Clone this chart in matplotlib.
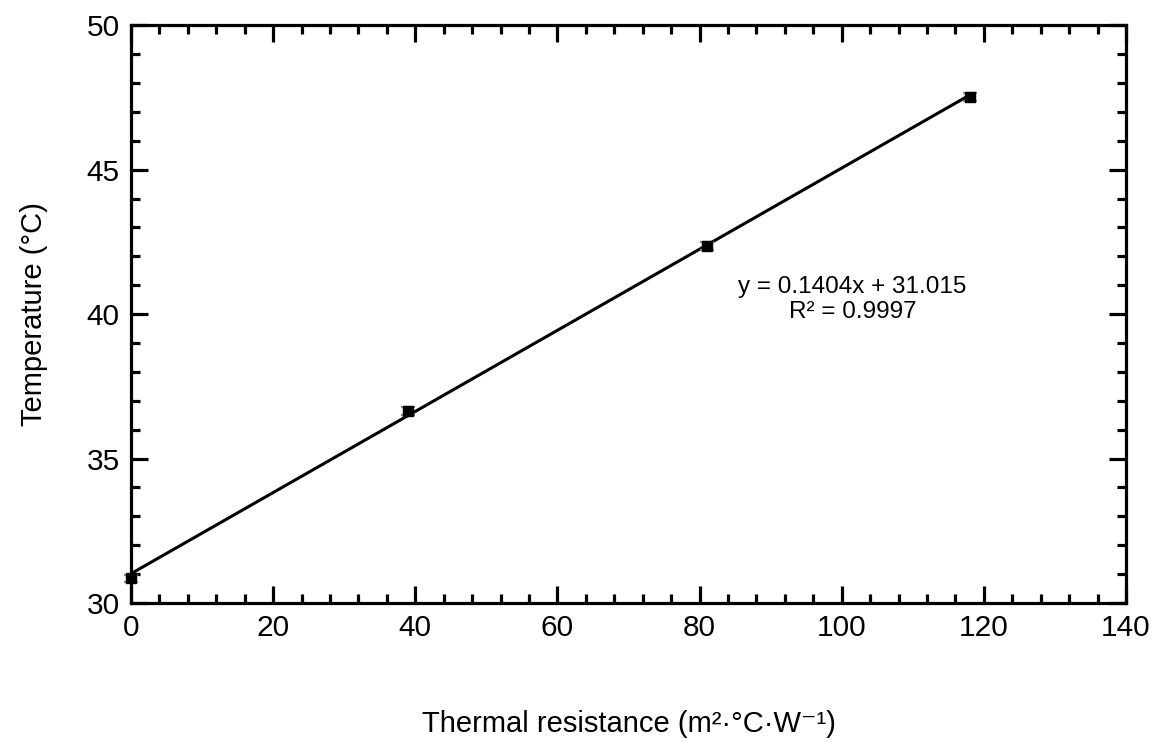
import matplotlib
matplotlib.use("Agg")
import matplotlib.pyplot as plt
import numpy as np
from matplotlib.ticker import MultipleLocator

plt.rcParams["font.family"] = ["Liberation Sans", "DejaVu Sans"]

# ── Data ──────────────────────────────────────────────────────────────────────
resistance = [0, 39, 81, 118]
temperature = [30.85, 36.65, 42.35, 47.52]
temp_err = [0.12, 0.15, 0.13, 0.14]
slope, intercept = 0.1404, 31.015
fit_label = "y = 0.1404x + 31.015\nR² = 0.9997"

fig = plt.figure(figsize=(11.56, 7.42), dpi=100)
ax = fig.add_axes([0.1133, 0.1873, 0.8607, 0.7787])

x_fit = np.array([resistance[0], resistance[-1]])
ax.plot(x_fit, slope * x_fit + intercept, color="black", lw=2.2, zorder=2)
ax.errorbar(resistance, temperature, yerr=temp_err, fmt="s", color="black",
            ms=7, ecolor="#888888", elinewidth=1.2, capsize=5, capthick=1.6,
            zorder=3, clip_on=False)

ax.set_xlim(0, 140)
ax.set_ylim(30, 50)
ax.xaxis.set_major_locator(MultipleLocator(20))
ax.xaxis.set_minor_locator(MultipleLocator(4))
ax.yaxis.set_major_locator(MultipleLocator(5))
ax.yaxis.set_minor_locator(MultipleLocator(1))
ax.tick_params(which="both", direction="in", top=True, right=True, width=2.3,
               labelsize=21.5)
ax.tick_params(axis="x", pad=8)
ax.tick_params(axis="y", pad=8)
ax.tick_params(which="major", length=12.5)
ax.tick_params(which="minor", length=6.5)
for sp in ax.spines.values():
    sp.set_linewidth(2.3)

ax.set_xlabel("Thermal resistance (m²·°C·W⁻¹)", fontsize=21, labelpad=49)
ax.set_ylabel("Temperature (°C)", fontsize=21, labelpad=28)

ax.text(101.5, 40.5, fit_label, ha="center", va="center", fontsize=17.5,
        linespacing=1.2)

fig.savefig("out.png", dpi=100)
